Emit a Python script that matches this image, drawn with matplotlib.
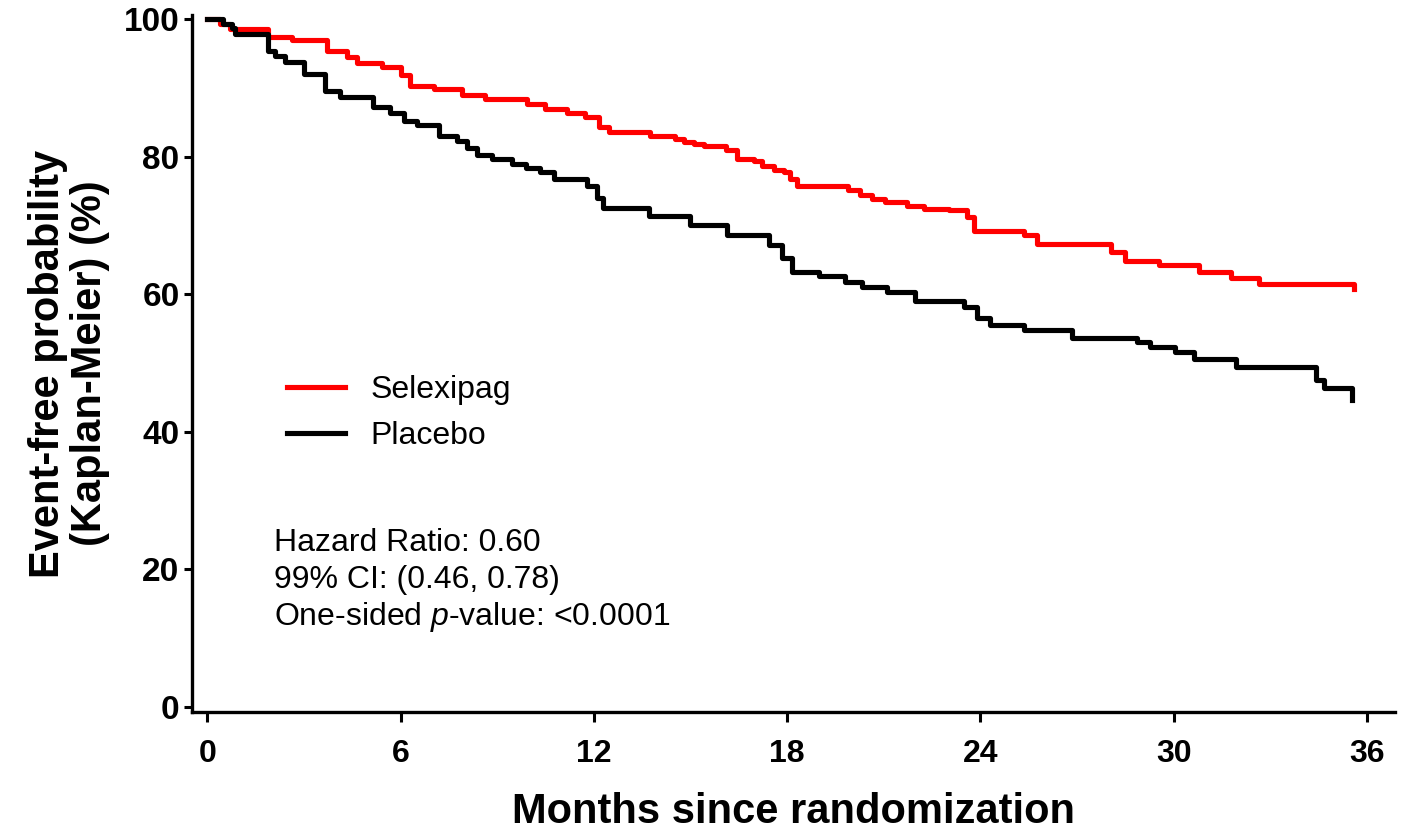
import matplotlib
matplotlib.use("Agg")
import matplotlib.pyplot as plt

plt.rcParams["font.family"] = ["Liberation Sans", "DejaVu Sans"]
plt.rcParams["mathtext.fontset"] = "custom"
plt.rcParams["mathtext.rm"] = "Liberation Sans"
plt.rcParams["mathtext.it"] = "Liberation Sans:italic"

# Kaplan-Meier step data (months, % event-free)
selexipag_t = [0, 0.4, 0.7, 1.9, 2.63, 3.72, 4.34, 4.65, 5.43, 6.0, 6.3, 7.03,
               7.91, 8.63, 9.93, 10.5, 11.17, 11.74, 12.15, 12.46, 13.76, 14.53,
               14.8, 15.1, 15.41, 16.09, 16.45, 16.97, 17.22, 17.58, 17.9, 18.1,
               18.3, 19.9, 20.27, 20.63, 21.04, 21.72, 22.24, 23.02, 23.59, 23.8,
               25.35, 25.76, 28.04, 28.5, 29.54, 30.78, 31.77, 32.65, 35.6]
selexipag_s = [100, 99.3, 98.6, 97.4, 96.9, 95.3, 94.5, 93.6, 93.1, 91.8, 90.3,
               89.8, 88.9, 88.4, 87.6, 86.9, 86.3, 85.7, 84.3, 83.6, 83.0, 82.5,
               82.1, 81.8, 81.6, 80.9, 79.7, 79.4, 78.6, 78.1, 77.7, 76.7, 75.7,
               75.2, 74.4, 73.8, 73.4, 72.8, 72.4, 72.2, 71.3, 69.2, 68.6, 67.3,
               66.2, 64.9, 64.2, 63.3, 62.3, 61.5, 60.8]

placebo_t = [0, 0.5, 0.77, 0.87, 1.9, 2.1, 2.42, 2.99, 3.66, 4.13, 5.16, 5.68,
             6.1, 6.51, 7.18, 7.75, 8.06, 8.37, 8.84, 9.46, 9.88, 10.34, 10.75,
             11.79, 12.1, 12.3, 13.7, 15.0, 16.14, 17.43, 17.85, 18.16, 18.98,
             19.81, 20.33, 21.1, 21.98, 23.5, 23.9, 24.3, 25.35, 26.83, 28.85,
             29.27, 30.04, 30.62, 31.93, 34.41, 34.67, 35.55]
placebo_s = [100, 99.3, 98.7, 97.8, 95.4, 94.7, 93.7, 92.0, 89.6, 88.7, 87.2,
             86.4, 85.2, 84.6, 83.0, 82.3, 81.3, 80.3, 79.6, 78.9, 78.4, 77.7,
             76.7, 75.7, 74.0, 72.6, 71.4, 70.1, 68.6, 67.2, 65.3, 63.2, 62.6,
             61.8, 61.1, 60.4, 59.0, 58.1, 56.5, 55.5, 54.8, 53.7, 53.1, 52.4,
             51.6, 50.6, 49.4, 47.5, 46.4, 44.6]

x_ticks = [0, 6, 12, 18, 24, 30, 36]
y_ticks = [0, 20, 40, 60, 80, 100]
stats_lines = ["Hazard Ratio: 0.60",
               "99% CI: (0.46, 0.78)",
               "One-sided $p$-value: <0.0001"]

fig = plt.figure(figsize=(14.02, 8.31), dpi=100)
ax = fig.add_axes([0.137, 0.143, 0.858, 0.839])

ax.step(selexipag_t, selexipag_s, where="post", color="#ff0000", lw=3.7,
        label="Selexipag")
ax.step(placebo_t, placebo_s, where="post", color="black", lw=3.7,
        label="Placebo")

ax.set_xlim(-0.47, 36.87)
ax.set_ylim(-0.75, 100.6)
ax.set_xticks(x_ticks)
ax.set_yticks(y_ticks)

for side in ("top", "right"):
    ax.spines[side].set_visible(False)
for side in ("left", "bottom"):
    ax.spines[side].set_linewidth(2.4)

ax.tick_params(axis="x", length=7, width=2.2, pad=12, labelsize=23)
ax.tick_params(axis="y", length=6, width=2.2, pad=3, labelsize=24)
for lbl in ax.get_xticklabels() + ax.get_yticklabels():
    lbl.set_fontweight("bold")

ax.set_xlabel("Months since randomization", fontsize=30, fontweight="bold",
              labelpad=17)
ax.set_ylabel("Event-free probability\n(Kaplan-Meier) (%)", fontsize=30,
              fontweight="bold", labelpad=10, linespacing=1.05)

ax.legend(loc="upper left", bbox_to_anchor=(0.079, 0.4835), frameon=False,
          fontsize=23, handlelength=1.8, handletextpad=0.8, labelspacing=0.5,
          borderpad=0, borderaxespad=0)

for i, line in enumerate(stats_lines):
    ax.text(0.068, 0.243 - i * 0.053, line, transform=ax.transAxes,
            fontsize=23, va="center", ha="left")

fig.savefig("out.png", dpi=100)
